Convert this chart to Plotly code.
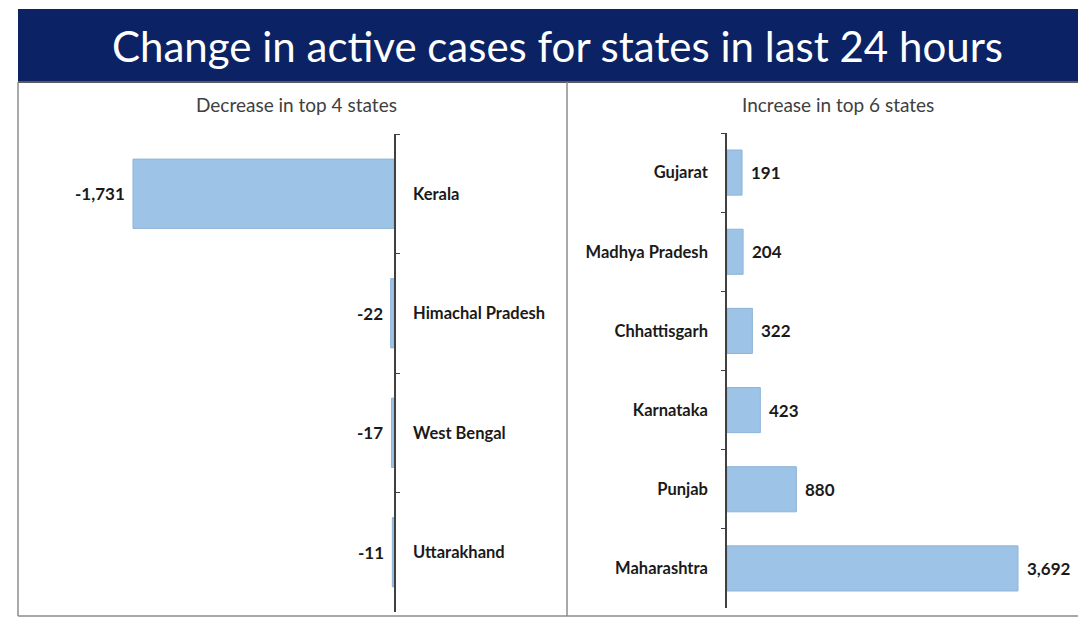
import plotly.graph_objects as go

# ---- data ----
dec_states = ["Kerala", "Himachal Pradesh", "West Bengal", "Uttarakhand"]
dec_values = [-1731, -22, -17, -11]
inc_states = ["Gujarat", "Madhya Pradesh", "Chhattisgarh", "Karnataka", "Punjab", "Maharashtra"]
inc_values = [191, 204, 322, 423, 880, 3692]

title_text = "Change in active cases for states in last 24 hours"
left_subtitle = "Decrease in top 4 states"
right_subtitle = "Increase in top 6 states"

W, H = 1078, 618
BAR = "#9dc3e6"
NAVY = "#0b2364"
FONT = "Lato"

def px(x):
    return x / W

def py(y):
    return 1 - y / H

fig = go.Figure()

fig.add_trace(go.Bar(
    x=dec_values, y=dec_states, orientation="h",
    marker=dict(color=BAR, line=dict(color="#8db4da", width=1)),
    width=0.58, xaxis="x", yaxis="y", hoverinfo="x+y", showlegend=False,
))
fig.add_trace(go.Bar(
    x=inc_values, y=inc_states, orientation="h",
    marker=dict(color=BAR, line=dict(color="#8db4da", width=1)),
    width=0.57, xaxis="x2", yaxis="y2", hoverinfo="x+y", showlegend=False,
))

annotations = []
for s, v in zip(dec_states, dec_values):
    annotations.append(dict(
        x=v, y=s, xref="x", yref="y", text=f"<b>{v:,}</b>",
        showarrow=False, xanchor="right", xshift=-6,
        font=dict(family=FONT, size=17, color="#1a1a1a"),
    ))
for s, v in zip(inc_states, inc_values):
    annotations.append(dict(
        x=v, y=s, xref="x2", yref="y2", text=f"<b>{v:,}</b>",
        showarrow=False, xanchor="left", xshift=7,
        font=dict(family=FONT, size=17, color="#1a1a1a"),
    ))

annotations.append(dict(
    x=px(557), y=py(46), xref="paper", yref="paper", text=title_text,
    showarrow=False, xanchor="center", yanchor="middle",
    font=dict(family=FONT, size=42, color="white"),
))
annotations.append(dict(
    x=px(296), y=py(104), xref="paper", yref="paper", text=left_subtitle,
    showarrow=False, xanchor="center", yanchor="middle",
    font=dict(family=FONT, size=19, color="#404040"),
))
annotations.append(dict(
    x=px(838), y=py(104), xref="paper", yref="paper", text=right_subtitle,
    showarrow=False, xanchor="center", yanchor="middle",
    font=dict(family=FONT, size=19, color="#404040"),
))

shapes = [
    # title banner
    dict(type="rect", xref="paper", yref="paper", x0=px(18), x1=1, y0=py(81), y1=py(9),
         fillcolor=NAVY, line=dict(width=0), layer="below"),
    dict(type="line", xref="paper", yref="paper", x0=px(18), x1=1, y0=py(82), y1=py(82),
         line=dict(color="#5a5a5a", width=2)),
    # box borders
    dict(type="line", xref="paper", yref="paper", x0=px(18), x1=px(18), y0=py(82), y1=py(616),
         line=dict(color="#8c8c8c", width=1.5)),
    dict(type="line", xref="paper", yref="paper", x0=px(18), x1=1, y0=py(616), y1=py(616),
         line=dict(color="#8c8c8c", width=1.5)),
    dict(type="line", xref="paper", yref="paper", x0=px(567), x1=px(567), y0=py(82), y1=py(616),
         line=dict(color="#8c8c8c", width=1.5)),
]

L_END = 394
R_START = 727
left_scale = 261 / 1731
right_scale = 291 / 3692

fig.update_layout(
    width=W, height=H,
    margin=dict(l=0, r=0, t=0, b=0),
    paper_bgcolor="white", plot_bgcolor="rgba(0,0,0,0)",
    font=dict(family=FONT, color="#1a1a1a"),
    bargap=0.4,
    xaxis=dict(domain=[px(20), px(L_END)], range=[-(L_END - 20) / left_scale, 0],
               visible=False, fixedrange=True),
    yaxis=dict(domain=[py(612), py(134)], anchor="x", side="right",
               categoryorder="array", categoryarray=dec_states, autorange="reversed",
               showline=True, linecolor="#404040", linewidth=1.5,
               ticks="outside", tickson="boundaries", ticklen=4, tickcolor="#404040",
               ticklabelstandoff=14, showgrid=False, zeroline=False,
               tickfont=dict(family=FONT, size=16.5, color="#1a1a1a", weight="bold"),
               fixedrange=True),
    xaxis2=dict(domain=[px(R_START), px(1072)], range=[0, (1072 - R_START) / right_scale],
                visible=False, anchor="y2", fixedrange=True),
    yaxis2=dict(domain=[py(608), py(133)], anchor="x2", side="left",
                categoryorder="array", categoryarray=inc_states, autorange="reversed",
                showline=True, linecolor="#404040", linewidth=1.5,
                ticks="outside", tickson="boundaries", ticklen=4, tickcolor="#404040",
                ticklabelstandoff=14, showgrid=False, zeroline=False,
                tickfont=dict(family=FONT, size=16.5, color="#1a1a1a", weight="bold"),
                fixedrange=True),
    annotations=annotations,
    shapes=shapes,
)

fig.write_html("out.html", config={"displayModeBar": False},
               post_script="document.body.style.margin='0';")
